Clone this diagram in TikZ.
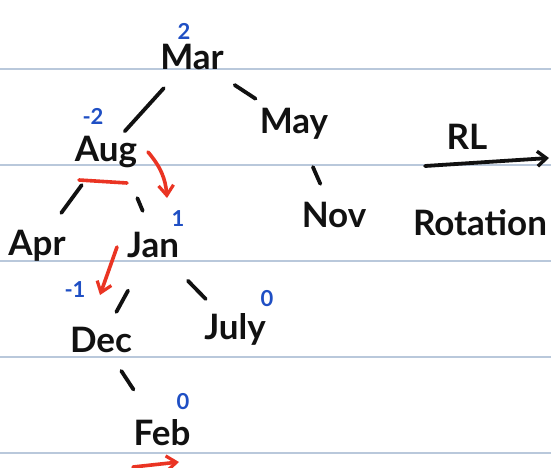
\documentclass[tikz,border=0pt]{standalone}
\usepackage{fontspec}
\setmainfont{Lato}
\usetikzlibrary{arrows.meta}
\definecolor{ruling}{HTML}{B9C8DB}
\definecolor{ink}{HTML}{111111}
\definecolor{bfblue}{HTML}{1F4FC4}
\definecolor{penred}{HTML}{EA3423}
\tikzset{
  word/.style={inner sep=0pt, text=ink, font=\fontsize{35}{38}\selectfont\bfseries},
  bf/.style={inner sep=0pt, text=bfblue, font=\fontsize{22}{24}\selectfont\bfseries},
  edge/.style={draw=ink, line width=3.8pt, line cap=round},
  redmark/.style={draw=penred, line width=3.6pt, line cap=round},
  redarrow/.style={redmark, -{Straight Barb[length=10pt,width=15pt,line width=3.2pt]}},
  rule/.style={draw=ruling, line width=1.6pt}
}
\begin{document}
\begin{tikzpicture}[x=1pt,y=-1pt]
\useasboundingbox (0,0) rectangle (551,468);
\fill[white] (0,0) rectangle (551,468);
% ruled paper
\foreach \yy in {69,165,261,357,453} \draw[rule] (0,\yy) -- (551,\yy);

% tree nodes
\node[word] (mar)  at (192,57)  {Mar};
\node[word] (aug)  at (106,152) {Aug};
\node[word] (may)  at (294,124) {May};
\node[word] (apr)  at (37,246)  {Apr};
\node[word] (jan)  at (153,245) {Jan};
\node[word] (nov)  at (334,215) {Nov};
\node[word] (dec)  at (101,340) {Dec};
\node[word] (july) at (235,329) {July};
\node[word] (feb)  at (162,433) {Feb};

% balance factors
\node[bf] (bmar)  at (184,31)  {2};
\node[bf] (baug)  at (93,116)  {-2};
\node[bf] (bjan)  at (178,219) {1};
\node[bf] (bdec)  at (75,290)  {-1};
\node[bf] (bjuly) at (267,299) {0};
\node[bf] (bfeb)  at (183,402) {0};

% tree edges
\draw[edge, shorten <=42pt, shorten >=28pt] (mar.center) -- (aug.center);
\draw[edge, shorten <=51pt, shorten >=46pt] (mar.center) -- (may.center);
\draw[edge, shorten <=41pt, shorten >=41pt] (aug.center) -- (apr.center);
\draw[edge, shorten <=50pt, shorten >=37pt] ([xshift=12pt]aug.center) -- ([xshift=4pt]jan.center);
\draw[edge, shorten <=52pt, shorten >=32pt] (jan.center) -- (dec.center);
\draw[edge, shorten <=50pt, shorten >=42pt] (jan.center) -- (july.center);
\draw[edge, shorten <=37pt, shorten >=52pt] (dec.center) -- (feb.center);
\draw[edge, shorten <=47pt, shorten >=34pt] (may.center) -- (nov.center);

% rotation marks
\coordinate (rotA) at (148,152);
\coordinate (rotB) at (167,198);
\draw[redarrow] (rotA) to[bend left=18] (rotB);
\coordinate (cutA) at (79,180);
\coordinate (cutB) at (127,183);
\draw[redmark] (cutA) -- (cutB);
\coordinate (pivA) at (117,247);
\coordinate (pivB) at (100,295);
\draw[redarrow] (pivA) -- (pivB);
\coordinate (lowA) at (133,467);
\coordinate (lowB) at (179,462);
\draw[redarrow] (lowA) -- (lowB);

% rotation label
\node[word] (rl)  at (467,137) {RL};
\node[word] (rot) at (480,223) {Rotation};
\coordinate (rlA) at (425,166);
\coordinate (rlB) at (549,158);
\draw[edge, -{Straight Barb[length=9pt,width=15pt,line width=3.4pt]}] (rlA) -- (rlB);
\end{tikzpicture}
\end{document}
